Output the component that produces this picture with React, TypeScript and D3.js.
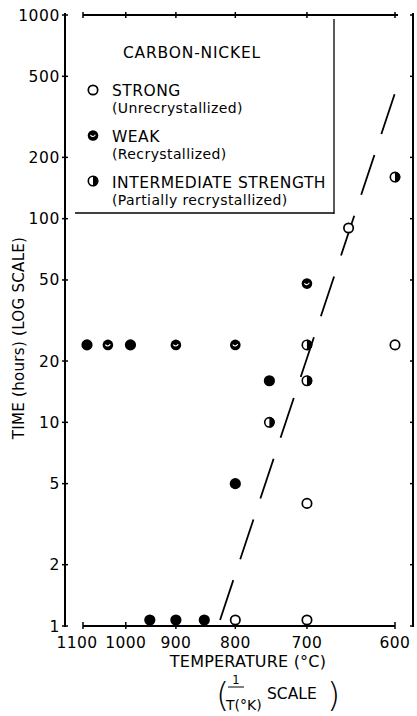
import React from 'react';
import * as d3 from 'd3';

// tick labels
const tempTicks = [1100, 1000, 900, 800, 700, 600];
const hourTicks = [1, 2, 5, 10, 20, 50, 100, 200, 500, 1000];

// STRONG (unrecrystallized) - open circles
const strongTemp = [600, 650, 700, 700, 800];
const strongHours = [24, 90, 4, 1.07, 1.07];

// WEAK (recrystallized) - black with a white mark
const weakTemp = [1040, 900, 800, 700];
const weakHours = [24, 24, 24, 48];

// fully black points
const solidTemp = [1090, 990, 750, 800, 950, 900, 850];
const solidHours = [24, 24, 16, 5, 1.07, 1.07, 1.07];

// INTERMEDIATE STRENGTH (partially recrystallized) - half filled
const interTemp = [700, 700, 750, 600];
const interHours = [24, 16, 10, 160];

// dashed boundary
const boundaryTemp = [824, 598];
const boundaryHours = [1.07, 443];

const legendItems = [
  { kind: 'strong', title: 'STRONG', sub: '(Unrecrystallized)' },
  { kind: 'weak', title: 'WEAK', sub: '(Recrystallized)' },
  { kind: 'inter', title: 'INTERMEDIATE STRENGTH', sub: '(Partially recrystallized)' },
];

const font = '"DejaVu Sans", sans-serif';
const inv = (t: number) => 1 / (t + 273.15);

const x = d3.scaleLinear()
  .domain([inv(1100), inv(600)])
  .range([83, 395]);

const y = d3.scaleLog()
  .domain([1, 1000])
  .range([626, 15]);

const R = 5.3;

const Marker = ({ kind, cx, cy }: { kind: string; cx: number; cy: number }) => {
  if (kind === 'strong') {
    return <circle cx={cx} cy={cy} r={R - 0.6} fill="#fff" stroke="#000" strokeWidth={1.7} />;
  }
  if (kind === 'solid') {
    return <circle cx={cx} cy={cy} r={R + 0.3} fill="#000" />;
  }
  if (kind === 'weak') {
    return (
      <g transform={`translate(${cx},${cy})`}>
        <circle r={R} fill="#000" />
        <path d="M-2.6,-0.3 Q0,2.6 2.4,-0.8" fill="none" stroke="#fff" strokeWidth={1.1} />
      </g>
    );
  }
  return (
    <g transform={`translate(${cx},${cy})`}>
      <circle r={R - 0.6} fill="#fff" stroke="#000" strokeWidth={1.6} />
      <path d={`M0,${-R} A${R},${R} 0 0 1 0,${R} Z`} fill="#000" />
    </g>
  );
};

const App = () => {
  const boundary = d3.line<number>()
    .x((_, i) => x(inv(boundaryTemp[i])))
    .y(d => y(d));

  return (
    <svg width={417} height={716} style={{ position: 'absolute', left: 0, top: 0 }}>
      <rect width={417} height={716} fill="#fff" />

      {/* left axis */}
      <line x1={65} x2={65} y1={13} y2={627} stroke="#000" strokeWidth={2} />
      {hourTicks.map(h => (
        <g key={h}>
          <line x1={62} x2={68} y1={y(h)} y2={y(h)} stroke="#000" strokeWidth={1.5} />
          <text x={60} y={y(h) + 5.5} textAnchor="end" fontFamily={font} fontSize={15.5}
            letterSpacing={0.6}>{h}</text>
        </g>
      ))}

      {/* right axis */}
      <line x1={413} x2={413} y1={13} y2={627} stroke="#000" strokeWidth={2} />
      {hourTicks.map(h => (
        <line key={h} x1={410} x2={413} y1={y(h)} y2={y(h)} stroke="#000" strokeWidth={1.5} />
      ))}

      {/* top and bottom axes */}
      <line x1={x(inv(1100))} x2={398} y1={15} y2={15} stroke="#000" strokeWidth={1.8} />
      <line x1={x(inv(1100))} x2={x(inv(600))} y1={626} y2={626} stroke="#000" strokeWidth={2} />
      {tempTicks.map((t, i) => (
        <g key={t}>
          <line x1={x(inv(t))} x2={x(inv(t))} y1={12} y2={18} stroke="#000" strokeWidth={1.5} />
          <line x1={x(inv(t))} x2={x(inv(t))} y1={622} y2={629} stroke="#000" strokeWidth={1.5} />
          <text x={x(inv(t)) + (i === 0 ? -6 : 0)} y={648} textAnchor="middle"
            fontFamily={font} fontSize={15.5} letterSpacing={0.4}>{t}</text>
        </g>
      ))}

      {/* legend box */}
      <line x1={334} x2={334} y1={19} y2={214} stroke="#000" strokeWidth={1.3} />
      <line x1={75} x2={334} y1={213} y2={213} stroke="#000" strokeWidth={1.3} />
      <text x={123} y={58} fontFamily={font} fontSize={15.5} letterSpacing={0.8}>CARBON-NICKEL</text>
      {legendItems.map((it, i) => (
        <g key={it.kind}>
          <Marker kind={it.kind} cx={93} cy={90 + i * 45.5} />
          <text x={112} y={96 + i * 46} fontFamily={font} fontSize={15.5} letterSpacing={0.5}>{it.title}</text>
          <text x={112} y={113 + i * 46} fontFamily={font} fontSize={14} letterSpacing={0.4}>{it.sub}</text>
        </g>
      ))}

      {/* boundary */}
      <path d={boundary(boundaryHours) ?? ''} fill="none" stroke="#000" strokeWidth={1.8}
        strokeDasharray="42 22" />

      {/* points */}
      {strongTemp.map((t, i) => (
        <Marker key={'s' + i} kind="strong" cx={x(inv(t))} cy={y(strongHours[i])} />
      ))}
      {weakTemp.map((t, i) => (
        <Marker key={'w' + i} kind="weak" cx={x(inv(t))} cy={y(weakHours[i])} />
      ))}
      {solidTemp.map((t, i) => (
        <Marker key={'b' + i} kind="solid" cx={x(inv(t))} cy={y(solidHours[i])} />
      ))}
      {interTemp.map((t, i) => (
        <Marker key={'p' + i} kind="inter" cx={x(inv(t))} cy={y(interHours[i])} />
      ))}

      {/* axis titles */}
      <text transform="translate(24,338) rotate(-90)" textAnchor="middle" fontFamily={font}
        fontSize={15} letterSpacing={0.3}>TIME (hours) (LOG SCALE)</text>
      <text x={248} y={667} textAnchor="middle" fontFamily={font} fontSize={16} letterSpacing={0.2}>TEMPERATURE (°C)</text>
      <g fontFamily={font}>
        <text x={216} y={707} fontSize={34} fontWeight={200}>(</text>
        <text x={236} y={684} textAnchor="middle" fontSize={11.5}>1</text>
        <line x1={228} x2={244} y1={687} y2={687} stroke="#000" strokeWidth={1} />
        <text x={226} y={710} fontSize={14}>T(°K)</text>
        <text x={267} y={699} fontSize={15.5}>SCALE</text>
        <text x={327} y={707} fontSize={34} fontWeight={200}>)</text>
      </g>
    </svg>
  );
};

export default App;
